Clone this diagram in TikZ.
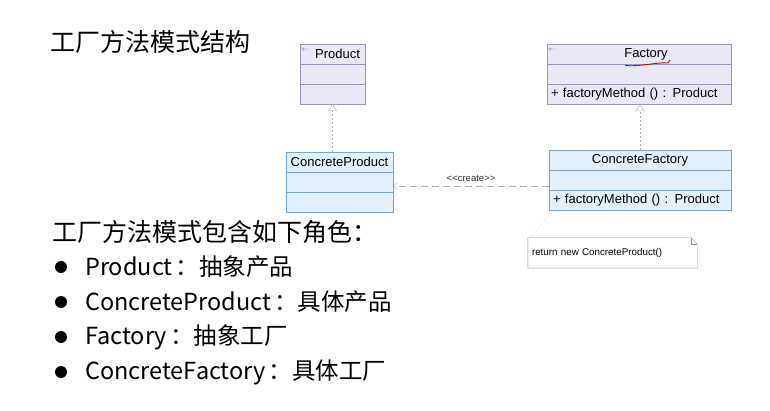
\documentclass[tikz,border=0pt]{standalone}
\usepackage{fontspec}
\setmainfont{Liberation Sans}
\newfontfamily\cjk{Noto Sans CJK SC}
\usetikzlibrary{arrows.meta,positioning}
\definecolor{absfill}{RGB}{232,232,246}
\definecolor{absline}{RGB}{150,150,195}
\definecolor{confill}{RGB}{226,240,251}
\definecolor{conline}{RGB}{110,168,214}
\definecolor{notline}{RGB}{140,130,205}
\definecolor{linkgray}{RGB}{165,172,188}
\tikzset{absrow/.style={draw=absline, fill=absfill, minimum height=20pt, inner ysep=1pt, inner xsep=4pt, outer sep=0pt, font=\fontsize{13}{15}\selectfont},
  conrow/.style={absrow, draw=conline, fill=confill},
  bigtext/.style={inner sep=0pt, anchor=west, font=\cjk\fontsize{25}{30}\selectfont},
  dot/.style={fill=black, inner sep=0pt, minimum size=12pt, circle},
  inherit/.style={linkgray, dash pattern=on 2pt off 2pt, -{Triangle[open, length=7pt, width=9pt, fill=white]}},
  create/.style={linkgray, dash pattern=on 7pt off 4pt, -{Straight Barb[length=4pt, width=7pt]}},
  notebox/.style={minimum width=169pt, minimum height=30pt, text width=161pt, align=left, inner xsep=4pt, font=\fontsize{9.8}{11}\selectfont}}
\begin{document}
\begin{tikzpicture}[x=1pt, y=-1pt]
  \useasboundingbox (0,0) rectangle (770,411);
  \def\wprod{65}
  \def\wfac{184}
  \def\wcprod{107}
  \def\wcfac{182}
  \node [bigtext] (title) at (50,42) {工厂方法模式结构};
  \node [absrow, minimum width=\wprod] (prod) at (332.5,54) {\hspace{10pt}Product};
  \node [absrow, minimum width=\wprod, below=0pt of prod] (prod-a) {};
  \node [absrow, minimum width=\wprod, below=0pt of prod-a] (prod-o) {};
  \node [absrow, minimum width=\wfac] (fac) at (639,54) {\hspace{14pt}Factory};
  \node [absrow, minimum width=\wfac, below=0pt of fac] (fac-a) {};
  \node [absrow, text width=\wfac-8, align=left, below=0pt of fac-a] (fac-o) {+ factoryMethod () : Product};
  \node [conrow, minimum width=\wcprod] (cprod) at (339.5,162) {ConcreteProduct};
  \node [conrow, minimum width=\wcprod, below=0pt of cprod] (cprod-a) {};
  \node [conrow, minimum width=\wcprod, below=0pt of cprod-a] (cprod-o) {};
  \node [conrow, minimum width=\wcfac] (cfac) at (640,160) {ConcreteFactory};
  \node [conrow, minimum width=\wcfac, below=0pt of cfac] (cfac-a) {};
  \node [conrow, text width=\wcfac-8, align=left, below=0pt of cfac-a] (cfac-o) {+ factoryMethod () : Product};
  \foreach \c in {prod,fac} {
    \draw [absline, line width=0.4pt] ([shift={(3pt,-5pt)}]\c.north west) circle (1.3pt) -- ++(5pt,0);
  }
  \draw [red!85!black, line width=0.9pt] (625,65.5) .. controls (640,67) and (656,62) .. (668,63) -- (670,60);
  \draw [inherit] (cprod.north -| prod-o.south) -- (prod-o.south);
  \draw [inherit] (cfac.north) -- (cfac.north |- fac-o.south);
  \draw [create] ([yshift=-6pt]cfac-a.west) -- ([yshift=-4pt]cprod-a.east)
    node [midway, above=4pt, inner sep=0pt, font=\fontsize{9.5}{11}\selectfont, black!80] (crlabel) {{<}{<}create{>}{>}};
  \node [notebox] (note) at (612.5,253) {return new ConcreteProduct()};
  \draw [notline, fill=white] (note.north west) -- ([xshift=-6pt]note.north east) -- ([yshift=-6pt]note.north east) -- (note.south east) -- (note.south west) -- cycle;
  \draw [notline] ([xshift=-6pt]note.north east) -- ([shift={(-6pt,-6pt)}]note.north east) -- ([yshift=-6pt]note.north east);
  \node [notebox] at (note) {return new ConcreteProduct()};
  \draw [linkgray, dotted] ([xshift=3pt]note.north west) -- ([xshift=4pt]cfac-o.south west);
  \node [bigtext] (roles) at (52,232) {工厂方法模式包含如下角色：};
  \foreach \t [count=\i] in {Product\kern3pt：抽象产品, ConcreteProduct\kern3pt：具体产品, Factory\kern3pt：抽象工厂, ConcreteFactory\kern3pt：具体工厂} {
    \node [dot] (b\i) at (61,232+35*\i) {};
    \node [bigtext, font=\cjk\fontsize{23.5}{28}\selectfont] (r\i) at (85,232+35*\i) {\t};
  }
\end{tikzpicture}
\end{document}
